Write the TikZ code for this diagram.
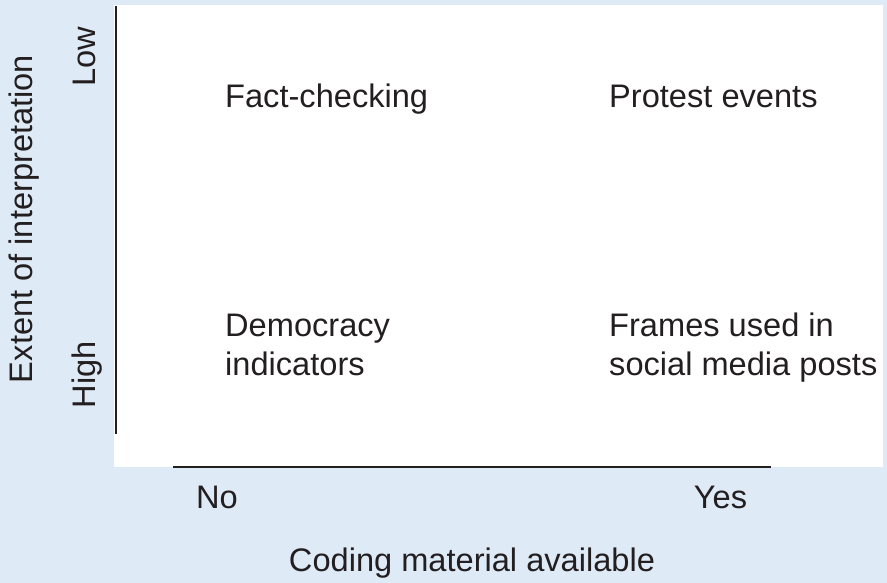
\documentclass[tikz,border=0pt]{standalone}
\usepackage{fontspec}
\setmainfont{Liberation Sans}
\definecolor{bgblue}{HTML}{DEEAF6}
\definecolor{ink}{HTML}{231F20}
\begin{document}
\begin{tikzpicture}[x=1pt,y=-1pt,
  lbl/.style={inner sep=0pt, text=ink, font=\fontsize{32.6}{39}\selectfont},
  cell/.style={lbl, anchor=base west, align=left},
  tick/.style={lbl, anchor=base},
  axisline/.style={draw=ink, line width=2pt}]
\fill[bgblue] (0,0) rectangle (887,583);
\useasboundingbox (0,0) rectangle (887,583);
\fill[white] (114,5) rectangle (883,467);
\coordinate (ytop) at (115.5,6);
\coordinate (ybot) at (115.5,434);
\coordinate (xl) at (173,466.5);
\coordinate (xr) at (771,466.5);
\draw[axisline] (ytop) -- (ybot);
\draw[axisline] (xl) -- (xr);
\node[cell] (fc) at (225,107.5) {Fact-checking};
\node[cell] (pe) at (609,107.5) {Protest events};
\node[cell] (di) at (225,375) {Democracy\\indicators};
\node[cell] (fr) at (609,375) {Frames used in\\social media posts};
\node[tick] (no) at (217,508) {No};
\node[tick] (yes) at (720.5,508) {Yes};
\node[tick] (xt) at (472,571.5) {Coding material available};
\node[tick, rotate=90] (low) at (95,57) {Low};
\node[tick, rotate=90] (high) at (95,375) {High};
\node[tick, rotate=90] (yt) at (32.5,219) {Extent of interpretation};
\end{tikzpicture}
\end{document}
